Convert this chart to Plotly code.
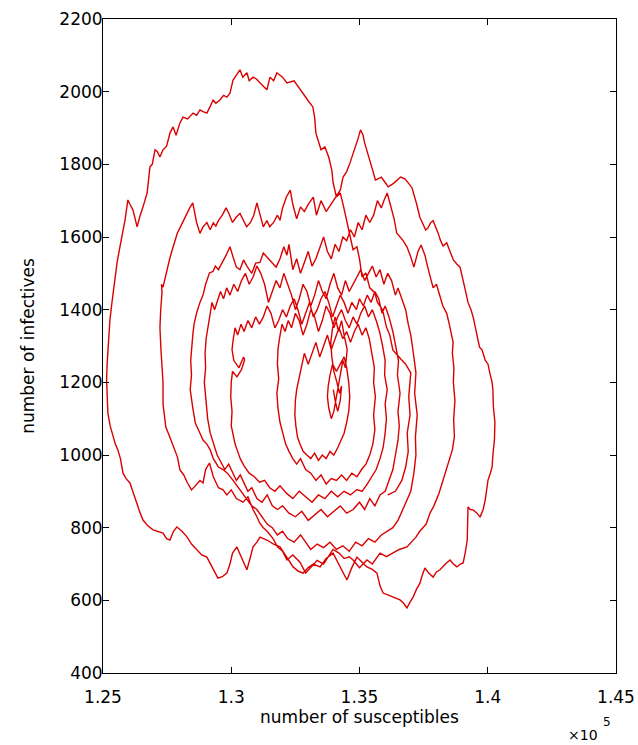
import plotly.graph_objects as go

# ---- data: susceptibles (x 10^5) and infectives along the stochastic trajectory ----
s_start = [1.3610, 1.3640, 1.3665, 1.3680, 1.3690, 1.3686, 1.3697, 1.3692, 1.3700, 1.3680, 1.3660, 1.3630, 1.3618, 1.3605, 1.3590, 1.3570, 1.3560, 1.3540, 1.3525, 1.3510, 1.3500, 1.3490, 1.3475, 1.3462, 1.3450, 1.3436, 1.3425, 1.3410, 1.3397, 1.3392, 1.3380, 1.3365, 1.3350, 1.3340, 1.3330, 1.3325, 1.3318, 1.3300, 1.3285, 1.3268]
i_start = [890, 900, 930, 967, 1010, 1060, 1110, 1160, 1226, 1250, 1265, 1289, 1330, 1352, 1400, 1420, 1446, 1460, 1501, 1490, 1540, 1573, 1565, 1610, 1647, 1690, 1721, 1710, 1750, 1784, 1820, 1848, 1840, 1860, 1886, 1930, 1958, 1975, 1990, 2005]

s_loop1_top = [1.3245, 1.3217, 1.3200, 1.3178, 1.3165, 1.3151, 1.3139, 1.3125, 1.3112, 1.3098, 1.3085, 1.3070, 1.3061, 1.3045, 1.3034, 1.3020, 1.3007, 1.2995, 1.2983, 1.2970, 1.2956, 1.2940, 1.2929, 1.2917, 1.2905, 1.2890, 1.2878, 1.2865, 1.2851, 1.2830, 1.2812, 1.2800, 1.2785, 1.2773, 1.2761, 1.2748, 1.2734, 1.2722, 1.2712, 1.2703, 1.2692, 1.2683, 1.2672, 1.2656, 1.2645, 1.2633, 1.2625, 1.2617, 1.2605, 1.2597, 1.2586, 1.2575, 1.2566, 1.2555, 1.2547, 1.2535, 1.2527, 1.2519]
i_loop1_top = [2030, 2024, 2040, 2052, 2030, 2040, 2005, 2015, 2024, 2035, 2040, 2030, 2052, 2040, 2060, 2045, 2032, 1996, 1985, 1990, 1977, 1968, 1977, 1958, 1941, 1945, 1950, 1935, 1941, 1925, 1930, 1914, 1880, 1903, 1886, 1850, 1840, 1820, 1835, 1840, 1800, 1793, 1721, 1683, 1660, 1628, 1650, 1674, 1690, 1702, 1647, 1600, 1573, 1530, 1490, 1420, 1372, 1297]

s_loop1_low = [1.2516, 1.2514, 1.2516, 1.2519, 1.2528, 1.2539, 1.2548, 1.2558, 1.2568, 1.2578, 1.2590, 1.2605, 1.2620, 1.2633, 1.2645, 1.2656, 1.2675, 1.2695, 1.2715, 1.2734, 1.2748, 1.2761, 1.2775, 1.2788, 1.2808, 1.2828, 1.2845, 1.2866, 1.2885, 1.2905, 1.2918, 1.2929, 1.2940, 1.2948, 1.2965, 1.2983, 1.2995, 1.3005, 1.3022, 1.3040, 1.3052, 1.3061, 1.3075, 1.3085, 1.3100, 1.3112, 1.3139, 1.3165, 1.3190, 1.3215, 1.3241, 1.3262, 1.3280, 1.3300, 1.3320, 1.3346, 1.3370, 1.3397, 1.3420, 1.3436, 1.3451, 1.3470, 1.3490, 1.3510, 1.3529, 1.3550, 1.3568, 1.3580, 1.3592, 1.3610, 1.3630, 1.3645, 1.3658, 1.3672, 1.3685, 1.3697, 1.3709, 1.3722, 1.3736, 1.3745, 1.3755, 1.3770, 1.3787, 1.3800, 1.3814, 1.3835, 1.3853, 1.3866, 1.3880, 1.3893, 1.3904, 1.3912, 1.3920, 1.3923, 1.3932, 1.3943, 1.3958, 1.3970, 1.3982, 1.3990, 1.4001, 1.4010, 1.4017, 1.4020, 1.4026, 1.4028, 1.4022, 1.4020, 1.4017, 1.4008, 1.4001, 1.3990]
i_loop1_low = [1250, 1206, 1160, 1116, 1080, 1050, 1030, 1014, 990, 950, 935, 923, 890, 868, 840, 821, 805, 794, 790, 785, 770, 766, 790, 802, 790, 774, 755, 739, 725, 719, 700, 684, 670, 661, 665, 675, 700, 730, 747, 720, 700, 684, 720, 747, 760, 774, 766, 755, 747, 720, 692, 680, 675, 690, 700, 692, 715, 730, 700, 675, 656, 690, 719, 705, 692, 685, 675, 640, 620, 615, 609, 605, 601, 592, 579, 595, 609, 630, 648, 670, 689, 675, 664, 678, 684, 700, 711, 700, 692, 700, 703, 730, 766, 857, 850, 849, 840, 829, 850, 876, 931, 950, 967, 1000, 1041, 1090, 1132, 1179, 1200, 1226, 1250, 1261, 1289]

s_loop1_right = [1.3978, 1.3968, 1.3958, 1.3950, 1.3943, 1.3935, 1.3923, 1.3915, 1.3904, 1.3892, 1.3880, 1.3866, 1.3853, 1.3840, 1.3826, 1.3815, 1.3807, 1.3797, 1.3787, 1.3777, 1.3767, 1.3758, 1.3748, 1.3735, 1.3723, 1.3712, 1.3705, 1.3690, 1.3677, 1.3660, 1.3646, 1.3635, 1.3627, 1.3612, 1.3600, 1.3585, 1.3572, 1.3562, 1.3553, 1.3540, 1.3529, 1.3520, 1.3514, 1.3504, 1.3494, 1.3484, 1.3475, 1.3463, 1.3450, 1.3436, 1.3425, 1.3412, 1.3400, 1.3388]
i_loop1_right = [1297, 1330, 1363, 1380, 1399, 1420, 1446, 1480, 1517, 1525, 1537, 1560, 1584, 1575, 1592, 1610, 1628, 1645, 1639, 1625, 1619, 1635, 1655, 1690, 1721, 1735, 1749, 1760, 1765, 1755, 1749, 1745, 1738, 1750, 1765, 1760, 1757, 1780, 1812, 1835, 1859, 1880, 1895, 1870, 1848, 1825, 1804, 1780, 1765, 1729, 1715, 1702, 1690, 1670]

s_loop2_top = [1.3370, 1.3350, 1.3332, 1.3320, 1.3300, 1.3285, 1.3270, 1.3255, 1.3240, 1.3230, 1.3215, 1.3200, 1.3190, 1.3180, 1.3165, 1.3150, 1.3139, 1.3125, 1.3112, 1.3100, 1.3088, 1.3075, 1.3060, 1.3045, 1.3034, 1.3020, 1.3005, 1.2990, 1.2980, 1.2965, 1.2950, 1.2940, 1.2930, 1.2918, 1.2905, 1.2890, 1.2878, 1.2865, 1.2850, 1.2838, 1.2825, 1.2812, 1.2800, 1.2790, 1.2780, 1.2768, 1.2760, 1.2750, 1.2742, 1.2734, 1.2728, 1.2730, 1.2725, 1.2722, 1.2726, 1.2730]
i_loop2_top = [1700, 1660, 1710, 1690, 1670, 1683, 1650, 1690, 1729, 1710, 1680, 1646, 1660, 1640, 1628, 1645, 1628, 1660, 1694, 1660, 1640, 1628, 1650, 1665, 1655, 1640, 1666, 1680, 1660, 1645, 1630, 1639, 1620, 1640, 1628, 1610, 1640, 1694, 1680, 1660, 1639, 1625, 1611, 1590, 1560, 1540, 1510, 1482, 1462, 1470, 1446, 1400, 1350, 1289, 1250, 1200]

s_loop2_low = [1.2734, 1.2734, 1.2745, 1.2760, 1.2775, 1.2790, 1.2800, 1.2815, 1.2828, 1.2845, 1.2860, 1.2878, 1.2890, 1.2900, 1.2915, 1.2930, 1.2950, 1.2968, 1.2983, 1.3000, 1.3020, 1.3046, 1.3065, 1.3085, 1.3100, 1.3111, 1.3125, 1.3140, 1.3163, 1.3180, 1.3200, 1.3217, 1.3240, 1.3268, 1.3290, 1.3310, 1.3335, 1.3360, 1.3380, 1.3397, 1.3420, 1.3440, 1.3460, 1.3475, 1.3500, 1.3529, 1.3550, 1.3580, 1.3605, 1.3630, 1.3655, 1.3685, 1.3702, 1.3720, 1.3735, 1.3760, 1.3775, 1.3790, 1.3810, 1.3825, 1.3840, 1.3850, 1.3862, 1.3870, 1.3867, 1.3872, 1.3866, 1.3868, 1.3862, 1.3865, 1.3858]
i_loop2_low = [1140, 1077, 1050, 1022, 995, 959, 945, 925, 904, 915, 930, 923, 960, 978, 940, 910, 904, 890, 904, 880, 870, 885, 850, 830, 813, 800, 790, 770, 747, 735, 711, 725, 705, 675, 690, 710, 700, 720, 740, 730, 715, 720, 711, 690, 711, 700, 730, 720, 730, 740, 747, 760, 774, 790, 810, 840, 860, 895, 931, 960, 990, 1014, 1050, 1096, 1150, 1200, 1240, 1281, 1310, 1336, 1360]

s_loop2_right = [1.3850, 1.3840, 1.3825, 1.3810, 1.3800, 1.3787, 1.3775, 1.3765, 1.3755, 1.3740, 1.3728, 1.3720, 1.3712, 1.3700, 1.3685, 1.3670, 1.3658, 1.3645, 1.3635, 1.3620, 1.3608, 1.3595, 1.3585, 1.3570, 1.3555, 1.3540, 1.3525, 1.3510, 1.3495, 1.3480, 1.3465, 1.3450]
i_loop2_right = [1390, 1410, 1446, 1470, 1460, 1490, 1520, 1550, 1578, 1560, 1535, 1517, 1545, 1573, 1590, 1600, 1611, 1650, 1690, 1721, 1700, 1680, 1700, 1660, 1640, 1660, 1620, 1640, 1600, 1620, 1590, 1600]

s_loop3_top = [1.3435, 1.3420, 1.3405, 1.3390, 1.3375, 1.3360, 1.3345, 1.3330, 1.3315, 1.3300, 1.3285, 1.3270, 1.3255, 1.3240, 1.3225, 1.3217, 1.3205, 1.3190, 1.3175, 1.3160, 1.3139, 1.3125, 1.3112, 1.3095, 1.3080, 1.3061, 1.3048, 1.3034, 1.3020, 1.3007, 1.2995, 1.2980, 1.2965, 1.2950, 1.2938, 1.2929, 1.2915, 1.2900, 1.2890, 1.2878, 1.2865, 1.2855, 1.2850, 1.2845]
i_loop3_top = [1560, 1580, 1540, 1560, 1600, 1570, 1540, 1520, 1560, 1530, 1500, 1540, 1510, 1580, 1550, 1573, 1540, 1517, 1530, 1545, 1556, 1530, 1528, 1500, 1520, 1537, 1510, 1517, 1545, 1573, 1550, 1530, 1510, 1520, 1505, 1501, 1470, 1440, 1420, 1391, 1360, 1330, 1297, 1260]

s_loop3_low = [1.2842, 1.2845, 1.2840, 1.2850, 1.2860, 1.2878, 1.2890, 1.2905, 1.2918, 1.2930, 1.2950, 1.2968, 1.2985, 1.3007, 1.3025, 1.3040, 1.3060, 1.3080, 1.3100, 1.3120, 1.3140, 1.3160, 1.3180, 1.3200, 1.3220, 1.3245, 1.3270, 1.3290, 1.3310, 1.3335, 1.3360, 1.3385, 1.3410, 1.3435, 1.3460, 1.3485, 1.3510, 1.3535, 1.3560, 1.3585, 1.3610, 1.3630, 1.3650, 1.3668, 1.3685, 1.3700, 1.3712, 1.3720, 1.3718, 1.3725, 1.3715, 1.3720, 1.3710]
i_loop3_low = [1220, 1180, 1130, 1088, 1060, 1041, 1030, 1014, 990, 967, 960, 950, 930, 912, 900, 880, 860, 850, 830, 810, 800, 780, 790, 770, 760, 780, 760, 740, 755, 745, 760, 740, 750, 735, 760, 750, 770, 760, 780, 790, 800, 820, 850, 880, 900, 950, 1000, 1050, 1110, 1170, 1226, 1280, 1330]

s_loop3_right = [1.3700, 1.3690, 1.3680, 1.3665, 1.3650, 1.3640, 1.3625, 1.3610, 1.3595, 1.3580, 1.3565, 1.3550, 1.3535, 1.3520, 1.3505, 1.3490]
i_loop3_right = [1360, 1400, 1430, 1460, 1440, 1480, 1500, 1470, 1510, 1490, 1520, 1500, 1480, 1510, 1490, 1470]

s_loop4_top = [1.3475, 1.3460, 1.3445, 1.3430, 1.3415, 1.3400, 1.3385, 1.3370, 1.3355, 1.3340, 1.3325, 1.3310, 1.3295, 1.3280, 1.3265, 1.3250, 1.3235, 1.3220, 1.3205, 1.3190, 1.3175, 1.3160, 1.3145, 1.3130, 1.3115, 1.3100, 1.3085, 1.3070, 1.3055, 1.3040, 1.3025, 1.3010, 1.2995, 1.2982, 1.2970, 1.2958, 1.2946, 1.2935, 1.2925, 1.2915, 1.2908, 1.2902]
i_loop4_top = [1450, 1480, 1440, 1460, 1500, 1470, 1430, 1450, 1480, 1440, 1410, 1450, 1470, 1430, 1400, 1440, 1470, 1500, 1460, 1480, 1450, 1420, 1470, 1500, 1520, 1490, 1470, 1500, 1480, 1450, 1470, 1440, 1460, 1430, 1450, 1420, 1400, 1420, 1380, 1350, 1320, 1280]

s_loop4_low = [1.2898, 1.2900, 1.2895, 1.2902, 1.2908, 1.2918, 1.2930, 1.2945, 1.2960, 1.2975, 1.2990, 1.3005, 1.3020, 1.3035, 1.3050, 1.3065, 1.3080, 1.3100, 1.3120, 1.3140, 1.3160, 1.3180, 1.3200, 1.3225, 1.3250, 1.3275, 1.3300, 1.3325, 1.3350, 1.3375, 1.3400, 1.3425, 1.3450, 1.3475, 1.3500, 1.3520, 1.3540, 1.3560, 1.3580, 1.3600, 1.3615, 1.3630, 1.3640, 1.3650, 1.3655, 1.3650, 1.3658, 1.3648, 1.3652]
i_loop4_low = [1240, 1200, 1150, 1100, 1060, 1030, 1000, 980, 960, 975, 950, 930, 945, 920, 900, 910, 880, 870, 890, 860, 850, 860, 840, 830, 845, 820, 835, 850, 830, 845, 860, 840, 850, 870, 850, 880, 860, 890, 900, 930, 960, 1000, 1040, 1080, 1120, 1170, 1220, 1260, 1300]

s_loop4_right = [1.3640, 1.3630, 1.3615, 1.3600, 1.3588, 1.3575, 1.3560, 1.3545, 1.3530, 1.3515, 1.3500, 1.3488]
i_loop4_right = [1340, 1380, 1410, 1390, 1430, 1450, 1420, 1440, 1410, 1430, 1400, 1420]

s_loop5_top = [1.3470, 1.3455, 1.3440, 1.3425, 1.3410, 1.3395, 1.3380, 1.3365, 1.3350, 1.3335, 1.3320, 1.3305, 1.3290, 1.3275, 1.3260, 1.3245, 1.3230, 1.3215, 1.3200, 1.3185, 1.3170, 1.3155, 1.3140, 1.3125, 1.3110, 1.3095, 1.3080, 1.3065, 1.3050, 1.3038, 1.3025, 1.3015, 1.3008, 1.3003]
i_loop5_top = [1390, 1420, 1440, 1410, 1380, 1420, 1450, 1430, 1400, 1380, 1420, 1390, 1360, 1400, 1430, 1410, 1380, 1400, 1370, 1350, 1390, 1410, 1380, 1360, 1380, 1350, 1370, 1340, 1360, 1330, 1350, 1320, 1290, 1260]

s_loop5_low = [1.3010, 1.3030, 1.3048, 1.3052, 1.3040, 1.3022, 1.3005, 1.3000, 1.2998, 1.3003, 1.3000, 1.3008, 1.3015, 1.3025, 1.3035, 1.3050, 1.3070, 1.3090, 1.3110, 1.3130, 1.3150, 1.3170, 1.3190, 1.3215, 1.3240, 1.3265, 1.3290, 1.3315, 1.3340, 1.3365, 1.3390, 1.3415, 1.3440, 1.3465, 1.3490, 1.3510, 1.3530, 1.3548, 1.3565, 1.3580, 1.3592, 1.3600, 1.3605, 1.3600, 1.3608, 1.3598, 1.3600]
i_loop5_low = [1240, 1270, 1262, 1235, 1215, 1230, 1200, 1160, 1120, 1080, 1050, 1030, 1010, 990, 970, 950, 940, 925, 930, 910, 900, 915, 895, 880, 900, 885, 870, 890, 880, 900, 885, 900, 890, 905, 900, 920, 940, 960, 990, 1020, 1060, 1100, 1140, 1180, 1220, 1260, 1300]

s_loop5_right = [1.3590, 1.3578, 1.3565, 1.3550, 1.3535, 1.3520, 1.3505, 1.3490, 1.3475]
i_loop5_right = [1340, 1370, 1400, 1380, 1410, 1390, 1360, 1380, 1350]

s_loop6_top = [1.3460, 1.3445, 1.3430, 1.3415, 1.3400, 1.3385, 1.3370, 1.3355, 1.3340, 1.3325, 1.3310, 1.3295, 1.3280, 1.3265, 1.3250, 1.3235, 1.3222, 1.3210, 1.3198, 1.3188, 1.3182]
i_loop6_top = [1370, 1400, 1380, 1350, 1390, 1410, 1370, 1340, 1380, 1400, 1360, 1330, 1370, 1390, 1350, 1370, 1340, 1360, 1320, 1290, 1250]

s_loop6_low = [1.3180, 1.3185, 1.3178, 1.3182, 1.3190, 1.3200, 1.3212, 1.3225, 1.3240, 1.3255, 1.3270, 1.3290, 1.3310, 1.3330, 1.3350, 1.3370, 1.3390, 1.3410, 1.3430, 1.3450, 1.3470, 1.3490, 1.3508, 1.3525, 1.3540, 1.3552, 1.3560, 1.3555, 1.3562, 1.3555, 1.3558]
i_loop6_low = [1210, 1170, 1130, 1090, 1060, 1030, 1010, 990, 975, 990, 960, 950, 930, 945, 920, 935, 930, 945, 930, 950, 940, 960, 975, 1000, 1030, 1070, 1110, 1160, 1200, 1240, 1280]

s_loop6_right = [1.3548, 1.3538, 1.3525, 1.3510, 1.3495, 1.3480, 1.3465, 1.3450]
i_loop6_right = [1320, 1350, 1330, 1360, 1340, 1310, 1340, 1320]

s_core = [1.3435, 1.3420, 1.3405, 1.3390, 1.3375, 1.3360, 1.3345, 1.3330, 1.3315, 1.3300, 1.3285, 1.3272, 1.3262, 1.3255, 1.3250, 1.3248, 1.3252, 1.3258, 1.3268, 1.3280, 1.3295, 1.3310, 1.3325, 1.3340, 1.3355, 1.3370, 1.3385, 1.3400, 1.3415, 1.3428, 1.3440, 1.3450, 1.3458, 1.3462, 1.3458, 1.3450, 1.3440, 1.3425, 1.3410, 1.3395, 1.3385, 1.3378, 1.3375, 1.3380, 1.3390, 1.3400, 1.3408]
i_core = [1350, 1320, 1290, 1330, 1300, 1270, 1310, 1280, 1250, 1280, 1240, 1210, 1180, 1150, 1110, 1080, 1050, 1030, 1010, 1000, 990, 1005, 985, 1000, 990, 1010, 1000, 1020, 1040, 1060, 1090, 1120, 1160, 1200, 1240, 1270, 1250, 1230, 1250, 1220, 1190, 1160, 1130, 1100, 1120, 1150, 1180]

s_core_end = [1.3415, 1.3425, 1.3435, 1.3445, 1.3452, 1.3440, 1.3430, 1.3418, 1.3405, 1.3395, 1.3388, 1.3392, 1.3400, 1.3412, 1.3422, 1.3430, 1.3425, 1.3415, 1.3405, 1.3398]
i_core_end = [1220, 1260, 1240, 1290, 1330, 1370, 1340, 1380, 1350, 1310, 1270, 1230, 1200, 1170, 1190, 1150, 1120, 1150, 1180, 1210]

x_tick_vals = [1.25, 1.30, 1.35, 1.40, 1.45]
x_tick_text = ["1.25", "1.3", "1.35", "1.4", "1.45"]
y_tick_vals = [400, 600, 800, 1000, 1200, 1400, 1600, 1800, 2000, 2200]

segments_s = [s_start, s_loop1_top, s_loop1_low, s_loop1_right, s_loop2_top, s_loop2_low, s_loop2_right,
              s_loop3_top, s_loop3_low, s_loop3_right, s_loop4_top, s_loop4_low, s_loop4_right,
              s_loop5_top, s_loop5_low, s_loop5_right, s_loop6_top, s_loop6_low, s_loop6_right,
              s_core, s_core_end]
segments_i = [i_start, i_loop1_top, i_loop1_low, i_loop1_right, i_loop2_top, i_loop2_low, i_loop2_right,
              i_loop3_top, i_loop3_low, i_loop3_right, i_loop4_top, i_loop4_low, i_loop4_right,
              i_loop5_top, i_loop5_low, i_loop5_right, i_loop6_top, i_loop6_low, i_loop6_right,
              i_core, i_core_end]

xs, ys = [], []
for a, b in zip(segments_s, segments_i):
    xs.extend(a)
    ys.extend(b)

FONT = "DejaVu Sans"

fig = go.Figure()
fig.add_trace(go.Scatter(x=xs, y=ys, mode="lines",
                         line=dict(color="rgb(218,0,0)", width=1.4),
                         showlegend=False, hoverinfo="skip"))

axis_common = dict(showgrid=False, zeroline=False, showline=True, linecolor="black", linewidth=1,
                   mirror="ticks", ticks="inside", ticklen=6, tickcolor="black", tickwidth=1,
                   tickfont=dict(family=FONT, size=17, color="black"))

fig.update_xaxes(range=[1.25, 1.45], tickvals=x_tick_vals, ticktext=x_tick_text,
                 ticklabelstandoff=9, ticklabeloverflow="allow",
                 title=dict(text="number of susceptibles", font=dict(family=FONT, size=17, color="black"), standoff=4),
                 **axis_common)
fig.update_yaxes(range=[400, 2200], tickvals=y_tick_vals, ticklabelstandoff=-4,
                 title=dict(text="number of infectives", font=dict(family=FONT, size=17, color="black"), standoff=20),
                 **axis_common)

fig.add_annotation(text="×10", x=0.9357, y=-0.0948, xref="paper", yref="paper",
                   xanchor="center", yanchor="middle",
                   showarrow=False, font=dict(family=FONT, size=14, color="black"))
fig.add_annotation(text="5", x=0.982, y=-0.0749, xref="paper", yref="paper",
                   xanchor="center", yanchor="middle",
                   showarrow=False, font=dict(family=FONT, size=12, color="black"))

fig.update_layout(width=638, height=745, margin=dict(l=103, r=22, t=19, b=72, autoexpand=False),
                  paper_bgcolor="white", plot_bgcolor="white")

fig.write_html("out.html", config={"displayModeBar": False},
               post_script="document.body.style.margin='0';")
